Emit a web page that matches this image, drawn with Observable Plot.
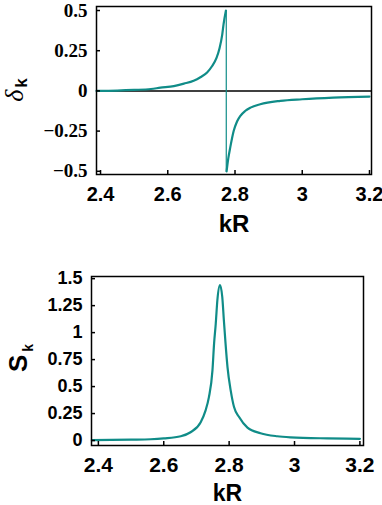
<!DOCTYPE html>
<html>
<head>
<meta charset="utf-8">
<script src="https://cdn.jsdelivr.net/npm/d3@7"></script>
<script src="https://cdn.jsdelivr.net/npm/@observablehq/plot@0.6"></script>
<style>
  html, body { margin: 0; padding: 0; background: #fff; }
  #wrap { position: relative; width: 382px; height: 505px; overflow: hidden; }
  #top, #bottom { position: absolute; left: 0; }
  #top { top: 0; }
  #bottom { top: 250px; }
</style>
</head>
<body>
<div id="wrap"><div id="top"></div><div id="bottom"></div></div>
<script>
// ---- data ----
const xTicks = [2.4, 2.6, 2.8, 3, 3.2];
const xTickLabels = ["2.4", "2.6", "2.8", "3", "3.2"];
const deltaTicks = [0.5, 0.25, 0, -0.25, -0.5];
const deltaTickLabels = ["0.5", "0.25", "0", "\u22120.25", "\u22120.5"];
const sTicks = [0, 0.25, 0.5, 0.75, 1, 1.25, 1.5];
const sTickLabels = ["0", "0.25", "0.5", "0.75", "1", "1.25", "1.5"];
const xLabel = "kR";

// phase shift delta_k: branch below and above the resonance
const kDeltaLeft = [2.388, 2.45, 2.5, 2.55, 2.578, 2.618, 2.648, 2.677, 2.697, 2.717, 2.732, 2.745, 2.754, 2.762, 2.766, 2.773];
const deltaLeft  = [0, 0.002, 0.006, 0.012, 0.02, 0.03, 0.045, 0.063, 0.085, 0.115, 0.155, 0.205, 0.265, 0.35, 0.415, 0.5];
const kDeltaRight = [2.775, 2.780, 2.786, 2.796, 2.806, 2.816, 2.83, 2.846, 2.875, 2.935, 3.0, 3.092, 3.2];
const deltaRight  = [-0.5, -0.42, -0.35, -0.25, -0.19, -0.155, -0.125, -0.104, -0.083, -0.062, -0.052, -0.042, -0.035];
// jump at the resonance
const kJump = [2.774, 2.774];
const deltaJump = [0.5, -0.5];

// S_k
const kS = [2.38, 2.5, 2.56, 2.6, 2.652, 2.682, 2.713, 2.728, 2.738, 2.749, 2.754, 2.759, 2.764, 2.772, 2.779, 2.784, 2.789, 2.795, 2.805, 2.815, 2.830, 2.856, 2.896, 2.947, 2.988, 3.1, 3.2];
const sVals = [0.003, 0.008, 0.012, 0.02, 0.04, 0.077, 0.17, 0.28, 0.40, 0.65, 0.90, 1.08, 1.30, 1.44, 1.33, 1.11, 0.90, 0.68, 0.46, 0.31, 0.22, 0.12, 0.068, 0.04, 0.03, 0.02, 0.016];

// ---- styling ----
const teal = "#108c88";
const sans = "'Liberation Sans', Arial, sans-serif";
const serif = "'Liberation Serif', 'Times New Roman', serif";

const deltaRows = [
  ...kDeltaLeft.map((k, i) => ({k, v: deltaLeft[i], s: "left"})),
  ...kDeltaRight.map((k, i) => ({k, v: deltaRight[i], s: "right"}))
];
const jumpRows = kJump.map((k, i) => ({k, v: deltaJump[i]}));
const sRows = kS.map((k, i) => ({k, v: sVals[i]}));

const xLab = new Map(xTicks.map((d, i) => [d, xTickLabels[i]]));
const dLab = new Map(deltaTicks.map((d, i) => [d, deltaTickLabels[i]]));
const sLab = new Map(sTicks.map((d, i) => [d, sTickLabels[i]]));

// ---- top panel ----
{
  const W = 382, H = 240, mt = 6, mb = 66, ml = 96, mr = 11;
  const innerW = W - ml - mr, innerH = H - mt - mb;
  const p = Plot.plot({
    width: W, height: H,
    marginTop: mt, marginBottom: mb, marginLeft: ml, marginRight: mr,
    style: {background: "white", overflow: "visible"},
    x: {domain: [2.388, 3.206]},
    y: {domain: [-0.52, 0.525]},
    marks: [
      Plot.ruleY([0], {stroke: "black", strokeWidth: 1.5}),
      Plot.line(jumpRows, {x: "k", y: "v", stroke: teal, strokeWidth: 1.2}),
      Plot.line(deltaRows, {x: "k", y: "v", z: "s", stroke: teal, strokeWidth: 2.2, curve: "monotone-x"}),
      Plot.tickX(xTicks, {x: d => d, insetTop: innerH - 4, stroke: "black", strokeWidth: 1.5}),
      Plot.tickY(deltaTicks, {y: d => d, insetRight: innerW - 4, stroke: "black", strokeWidth: 1.5}),
      Plot.axisX({ticks: xTicks, tickSize: 0, tickPadding: 12, tickFormat: d => xLab.get(d), label: null,
        fontSize: 20, fontWeight: "bold", fontFamily: sans}),
      Plot.axisY({ticks: deltaTicks, tickSize: 0, tickPadding: 9, tickFormat: d => dLab.get(d), label: null,
        fontSize: 19, fontWeight: "bold", fontFamily: serif}),
      Plot.text([xLabel], {frameAnchor: "bottom", dy: 50, lineAnchor: "middle", text: d => d,
        fontSize: 24, fontWeight: "bold", fontFamily: sans, fill: "black"}),
      Plot.frame({stroke: "black", strokeWidth: 1.5})
    ]
  });
  const svg = d3.select(p);
  const t = svg.append("text")
    .attr("transform", "translate(23,90) rotate(-90)")
    .attr("text-anchor", "middle")
    .attr("fill", "black");
  t.append("tspan").attr("font-family", serif).attr("font-style", "italic").attr("font-size", 26).text("\u03b4");
  t.append("tspan").attr("font-family", sans).attr("font-weight", "bold").attr("font-size", 17).attr("dy", 4).attr("dx", 2).text("k");
  document.getElementById("top").appendChild(p);
}

// ---- bottom panel ----
{
  const W = 382, H = 255, mt = 26, mb = 60, ml = 91, mr = 19;
  const innerW = W - ml - mr, innerH = H - mt - mb;
  const p = Plot.plot({
    width: W, height: H,
    marginTop: mt, marginBottom: mb, marginLeft: ml, marginRight: mr,
    style: {background: "white", overflow: "visible"},
    x: {domain: [2.379, 3.211]},
    y: {domain: [-0.046, 1.52]},
    marks: [
      Plot.line(sRows, {x: "k", y: "v", stroke: teal, strokeWidth: 2.2, curve: "monotone-x"}),
      Plot.tickX(xTicks, {x: d => d, insetTop: innerH - 4, stroke: "black", strokeWidth: 1.5}),
      Plot.tickY(sTicks, {y: d => d, insetRight: innerW - 4, stroke: "black", strokeWidth: 1.5}),
      Plot.axisX({ticks: xTicks, tickSize: 0, tickPadding: 12, tickFormat: d => xLab.get(d), label: null,
        fontSize: 21, fontWeight: "bold", fontFamily: sans}),
      Plot.axisY({ticks: sTicks, tickSize: 0, tickPadding: 9, tickFormat: d => sLab.get(d), label: null,
        fontSize: 18, fontWeight: "bold", fontFamily: sans}),
      Plot.text([xLabel], {frameAnchor: "bottom", dy: 48, lineAnchor: "middle", text: d => d,
        fontSize: 23, fontWeight: "bold", fontFamily: sans, fill: "black"}),
      Plot.frame({stroke: "black", strokeWidth: 1.5})
    ]
  });
  const svg = d3.select(p);
  const t = svg.append("text")
    .attr("transform", "translate(27,108) rotate(-90)")
    .attr("text-anchor", "middle")
    .attr("fill", "black");
  t.append("tspan").attr("font-family", sans).attr("font-weight", "bold").attr("font-size", 26).text("S");
  t.append("tspan").attr("font-family", sans).attr("font-weight", "bold").attr("font-size", 14).attr("dy", 6).attr("dx", 3).text("k");
  document.getElementById("bottom").appendChild(p);
}
</script>
</body>
</html>
